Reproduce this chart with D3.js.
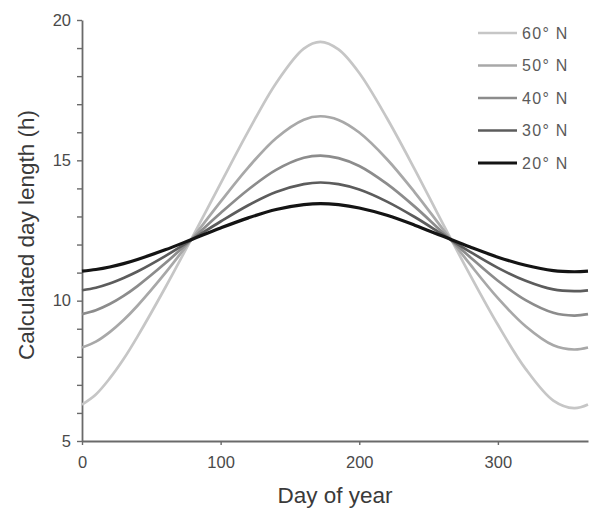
<!DOCTYPE html>
<html>
<head>
<meta charset="utf-8">
<script src="https://cdn.jsdelivr.net/npm/d3@7"></script>
<style>
  body { margin: 0; background: #fff; }
  svg { display: block; font-family: "Liberation Sans", Arial, sans-serif; }
</style>
</head>
<body>
<div class="chart-container"></div>
<script>
const width = 591, height = 508;

// day of year sampled
const days = [0, 10, 20, 30, 40, 60, 80, 100, 120, 140, 160, 172, 185, 200, 220, 240, 260, 280, 300, 320, 340, 355, 365];

// day length (h)
const lat60 = [6.30, 6.66, 7.23, 7.92, 8.72, 10.46, 12.30, 14.18, 16.04, 17.75, 18.98, 19.22, 18.95, 18.11, 16.50, 14.68, 12.77, 10.91, 9.14, 7.57, 6.44, 6.17, 6.30];
const lat50 = [8.33, 8.54, 8.88, 9.31, 9.82, 10.98, 12.25, 13.53, 14.75, 15.79, 16.45, 16.57, 16.44, 15.99, 15.04, 13.86, 12.57, 11.29, 10.09, 9.09, 8.41, 8.26, 8.33];
const lat40 = [9.52, 9.66, 9.88, 10.17, 10.52, 11.33, 12.22, 13.12, 13.96, 14.66, 15.09, 15.17, 15.08, 14.80, 14.16, 13.35, 12.44, 11.55, 10.71, 10.02, 9.57, 9.47, 9.52];
const lat30 = [10.37, 10.46, 10.61, 10.81, 11.04, 11.59, 12.20, 12.82, 13.40, 13.87, 14.15, 14.21, 14.15, 13.96, 13.53, 12.98, 12.36, 11.74, 11.17, 10.71, 10.40, 10.34, 10.37];
const lat20 = [11.05, 11.11, 11.20, 11.32, 11.47, 11.81, 12.20, 12.59, 12.95, 13.25, 13.42, 13.46, 13.42, 13.30, 13.04, 12.69, 12.30, 11.91, 11.55, 11.26, 11.07, 11.03, 11.05];

const seriesNames = ["60° N", "50° N", "40° N", "30° N", "20° N"];
const seriesValues = [lat60, lat50, lat40, lat30, lat20];
const seriesColors = ["#c6c6c6", "#a8a8a8", "#8c8c8c", "#5c5c5c", "#141414"];
const seriesWidths = [2.7, 2.7, 2.7, 2.7, 3.2];

const xTicks = [0, 100, 200, 300];
const yTicks = [5, 10, 15, 20];

var svg = d3.select(".chart-container")
    .append("svg")
    .attr("width", width)
    .attr("height", height);

var x = d3.scaleLinear().domain([0, 365]).range([82, 588]);
var y = d3.scaleLinear().domain([5, 20]).range([441, 20]);

var axisColor = "#6a6a6a", labelColor = "#4a4a4a";

// y axis, minor ticks every hour
var yAxis = svg.append("g")
    .attr("transform", "translate(82,0)")
    .call(d3.axisLeft(y).tickValues(d3.range(5, 21, 1)).tickSize(5).tickSizeOuter(0)
        .tickFormat(d => yTicks.includes(d) ? d : ""));

// x axis
var xAxis = svg.append("g")
    .attr("transform", "translate(0,441)")
    .call(d3.axisBottom(x).tickValues(xTicks).tickSize(4).tickSizeOuter(0));

[xAxis, yAxis].forEach(g => {
    g.select(".domain").attr("stroke", axisColor).attr("stroke-width", 1.8);
    g.selectAll(".tick line").attr("stroke", axisColor).attr("stroke-width", 1.4);
    g.selectAll(".tick text")
        .attr("fill", labelColor)
        .style("font-size", "16.5px")
        .style("font-family", "\"Liberation Sans\", Arial, sans-serif");
});
yAxis.selectAll(".tick text").attr("x", -11);
xAxis.selectAll(".tick text").attr("y", 15);

// curves
var line = d3.line()
    .x((d, i) => x(days[i]))
    .y(d => y(d))
    .curve(d3.curveCatmullRom.alpha(0.5));

svg.append("g").selectAll("path")
    .data(seriesValues)
    .enter()
    .append("path")
    .attr("d", line)
    .attr("fill", "none")
    .attr("stroke", (d, i) => seriesColors[i])
    .attr("stroke-width", (d, i) => seriesWidths[i]);

// legend
var legend = svg.append("g").selectAll("g")
    .data(seriesNames)
    .enter()
    .append("g")
    .attr("transform", (d, i) => "translate(478," + (33 + i * 32.5) + ")");

legend.append("line")
    .attr("x1", 0).attr("x2", 39)
    .attr("stroke", (d, i) => seriesColors[i])
    .attr("stroke-width", (d, i) => seriesWidths[i]);

legend.append("text")
    .attr("x", 44)
    .attr("dy", "0.36em")
    .attr("fill", "#5a5a5a")
    .style("font-size", "16px")
    .style("letter-spacing", "1.3px")
    .text(d => d);

// axis titles
svg.append("text")
    .attr("x", 335)
    .attr("y", 503)
    .attr("text-anchor", "middle")
    .attr("fill", "#3a3a3a")
    .style("font-size", "22.5px")
    .text("Day of year");

svg.append("text")
    .attr("transform", "translate(34,235) rotate(-90)")
    .attr("text-anchor", "middle")
    .attr("fill", "#3a3a3a")
    .style("font-size", "22.5px")
    .text("Calculated day length (h)");
</script>
</body>
</html>
